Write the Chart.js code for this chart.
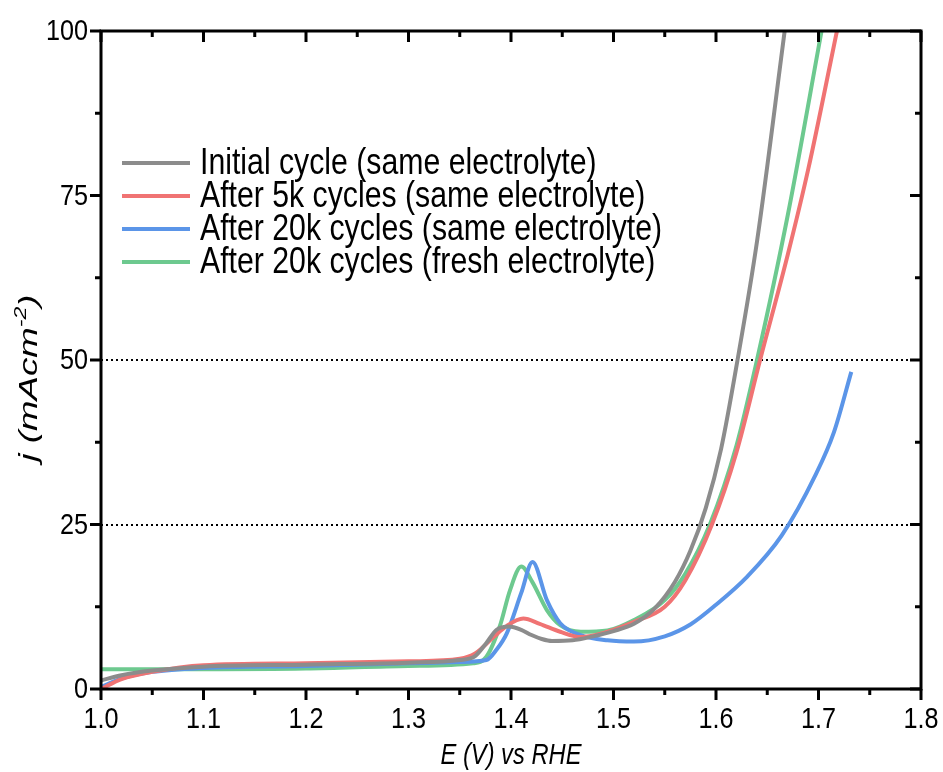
<!DOCTYPE html>
<html>
<head>
<meta charset="utf-8">
<script src="https://cdn.jsdelivr.net/npm/chart.js@4.4.1/dist/chart.umd.min.js"></script>
<style>
  html, body { margin: 0; padding: 0; background: #fff; }
  canvas { display: block; }
</style>
</head>
<body>
<canvas id="lsvChart" width="943" height="772"></canvas>
<script>
// Valores (E en V vs RHE, j en mA/cm2)
const initialE = [1.00, 1.02, 1.05, 1.10, 1.20, 1.30, 1.35, 1.365, 1.376, 1.386, 1.398, 1.41, 1.42, 1.43, 1.44, 1.46, 1.48, 1.50, 1.52, 1.54, 1.56, 1.575, 1.59, 1.605, 1.621, 1.64, 1.667];
const initialJ = [1.3, 2.1, 2.8, 3.4, 3.7, 4.0, 4.4, 5.0, 7.0, 9.0, 9.5, 9.0, 8.2, 7.6, 7.3, 7.4, 8.0, 8.8, 9.9, 12.2, 16.3, 21.0, 27.5, 36.5, 50, 68, 100];

const cycles5kE = [1.00, 1.02, 1.05, 1.10, 1.20, 1.30, 1.35, 1.365, 1.383, 1.396, 1.412, 1.428, 1.448, 1.468, 1.494, 1.52, 1.55, 1.57, 1.596, 1.62, 1.643, 1.67, 1.69, 1.718];
const cycles5kJ = [0.0, 1.5, 2.6, 3.6, 3.9, 4.2, 4.6, 5.4, 7.9, 9.6, 10.7, 9.9, 8.7, 7.9, 8.7, 10.2, 12.5, 16.5, 25, 36, 50, 66, 79, 100];

const cycles20kE = [1.00, 1.02, 1.05, 1.10, 1.20, 1.30, 1.35, 1.376, 1.386, 1.396, 1.41, 1.421, 1.435, 1.448, 1.468, 1.494, 1.52, 1.55, 1.575, 1.60, 1.63, 1.664, 1.697, 1.715, 1.732];
const cycles20kJ = [0.3, 1.6, 2.6, 3.2, 3.5, 3.9, 4.1, 4.4, 6.0, 8.5, 14.6, 19.3, 13.5, 10.0, 8.2, 7.4, 7.2, 8.0, 9.8, 12.8, 17.0, 23.3, 32.5, 39.0, 48.2];

const freshE = [1.00, 1.05, 1.10, 1.20, 1.30, 1.363, 1.376, 1.389, 1.399, 1.41, 1.421, 1.435, 1.448, 1.468, 1.494, 1.52, 1.55, 1.57, 1.594, 1.62, 1.640, 1.67, 1.703];
const freshJ = [3.0, 3.0, 3.0, 3.1, 3.5, 3.9, 4.9, 9.5, 15.0, 18.6, 16.2, 12.0, 9.7, 8.7, 8.9, 10.5, 13.5, 17.5, 25, 37, 50, 72, 100];

const seriesLabels = [
    'Initial cycle (same electrolyte)',
    'After 5k cycles (same electrolyte)',
    'After 20k cycles (same electrolyte)',
    'After 20k cycles (fresh electrolyte)'
];
const seriesColors = ['#8c8c8c', '#f07373', '#5b95e8', '#6dc98f'];

const xTicks = [1.0, 1.1, 1.2, 1.3, 1.4, 1.5, 1.6, 1.7, 1.8];
const yTicks = [0, 25, 50, 75, 100];
const refLines = [25, 50];

const FONT = "'Liberation Sans', Arial, sans-serif";
const SQUEEZE = 0.84; // la figura original está algo comprimida en horizontal

function toPoints(xs, ys) {
    return xs.map((x, i) => ({ x: x, y: ys[i] }));
}

function squeezedText(ctx, text, px, py, font, align, baseline, sx) {
    ctx.save();
    ctx.translate(px, py);
    ctx.scale(sx || SQUEEZE, 1);
    ctx.font = font;
    ctx.textAlign = align;
    ctx.textBaseline = baseline;
    ctx.fillText(text, 0, 0);
    ctx.restore();
}

// Marco, marcas, etiquetas, líneas punteadas, leyenda y títulos
const framePlugin = {
    id: 'frame',
    beforeDatasetsDraw(chart) {
        const { ctx, chartArea: a, scales: { y } } = chart;
        ctx.save();
        ctx.setLineDash([2, 3]);
        ctx.lineWidth = 2;
        ctx.strokeStyle = '#000';
        refLines.forEach(v => {
            const py = Math.round(y.getPixelForValue(v));
            ctx.beginPath();
            ctx.moveTo(a.left, py);
            ctx.lineTo(a.right, py);
            ctx.stroke();
        });
        ctx.restore();
    },
    afterDraw(chart) {
        const { ctx, chartArea: a, scales: { x, y } } = chart;
        ctx.save();
        ctx.strokeStyle = '#000';
        ctx.fillStyle = '#000';
        ctx.lineWidth = 3;
        ctx.strokeRect(a.left, a.top, a.right - a.left, a.bottom - a.top);

        // marcas del eje x (abajo hacia fuera, arriba hacia dentro)
        for (let i = 0; i <= 16; i++) {
            const px = x.getPixelForValue(xTicks[0] + i * 0.05);
            const len = i % 2 === 0 ? 11 : 6;
            ctx.beginPath();
            ctx.moveTo(px, a.bottom);
            ctx.lineTo(px, a.bottom + len);
            ctx.moveTo(px, a.top);
            ctx.lineTo(px, a.top + len);
            ctx.stroke();
        }
        // marcas del eje y (izquierda hacia fuera, derecha hacia dentro)
        for (let i = 0; i <= 8; i++) {
            const py = y.getPixelForValue(i * 12.5);
            const len = i % 2 === 0 ? 11 : 6;
            ctx.beginPath();
            ctx.moveTo(a.left, py);
            ctx.lineTo(a.left - len, py);
            ctx.moveTo(a.right, py);
            ctx.lineTo(a.right - len, py);
            ctx.stroke();
        }

        // etiquetas de los ejes, a partir de las marcas de Chart.js
        x.ticks.forEach(t => {
            squeezedText(ctx, Number(t.value).toFixed(1), x.getPixelForValue(t.value), 720, '30px ' + FONT, 'center', 'middle');
        });
        y.ticks.forEach(t => {
            squeezedText(ctx, String(t.value), a.left - 13, y.getPixelForValue(t.value) + 1, '30px ' + FONT, 'right', 'middle');
        });

        // leyenda
        chart.data.datasets.forEach((ds, i) => {
            const ly = 163 + i * 33;
            ctx.strokeStyle = ds.borderColor;
            ctx.lineWidth = 4;
            ctx.beginPath();
            ctx.moveTo(122, ly);
            ctx.lineTo(190, ly);
            ctx.stroke();
            squeezedText(ctx, ds.label, 200, ly + 1, '36px ' + FONT, 'left', 'middle');
        });

        // título eje x
        squeezedText(ctx, 'E (V) vs RHE', (a.left + a.right) / 2, 756, 'italic 30px ' + FONT, 'center', 'middle', 0.79);

        // título eje y con superíndice
        ctx.translate(30, 378);
        ctx.rotate(-Math.PI / 2);
        ctx.scale(1.22, SQUEEZE);
        ctx.textAlign = 'left';
        ctx.textBaseline = 'middle';
        const big = 'italic 30px ' + FONT;
        const small = 'italic 19px ' + FONT;
        ctx.font = big;
        const w1 = ctx.measureText('j (mAcm').width;
        const w3 = ctx.measureText(')').width;
        ctx.font = small;
        const w2 = ctx.measureText('-2').width;
        let cx = -(w1 + w2 + w3) / 2;
        ctx.font = big;
        ctx.fillText('j (mAcm', cx, 0);
        cx += w1;
        ctx.font = small;
        ctx.fillText('-2', cx, -10);
        cx += w2;
        ctx.font = big;
        ctx.fillText(')', cx, 0);
        ctx.restore();
    }
};

document.addEventListener('DOMContentLoaded', function() {
    const ctx = document.getElementById('lsvChart').getContext('2d');
    const xs = [initialE, cycles5kE, cycles20kE, freshE];
    const ys = [initialJ, cycles5kJ, cycles20kJ, freshJ];

    new Chart(ctx, {
        type: 'line',
        data: {
            datasets: seriesLabels.map((label, i) => ({
                label: label,
                data: toPoints(xs[i], ys[i]),
                borderColor: seriesColors[i],
                borderWidth: 4,
                pointRadius: 0,
                fill: false,
                cubicInterpolationMode: 'monotone'
            }))
        },
        options: {
            responsive: false,
            animation: false,
            layout: { padding: { top: 31, right: 22, left: 0, bottom: 0 } },
            plugins: {
                legend: { display: false },
                tooltip: { enabled: false }
            },
            scales: {
                x: {
                    type: 'linear',
                    min: 1.0,
                    max: 1.8,
                    afterFit: scale => { scale.height = 83; scale.paddingLeft = 0; scale.paddingRight = 0; },
                    afterBuildTicks: scale => { scale.ticks = xTicks.map(v => ({ value: v })); },
                    grid: { display: false, drawTicks: false },
                    border: { display: false },
                    ticks: { display: false }
                },
                y: {
                    min: 0,
                    max: 100,
                    afterFit: scale => { scale.width = 101; scale.paddingTop = 0; scale.paddingBottom = 0; },
                    afterBuildTicks: scale => { scale.ticks = yTicks.map(v => ({ value: v })); },
                    grid: { display: false, drawTicks: false },
                    border: { display: false },
                    ticks: { display: false }
                }
            }
        },
        plugins: [framePlugin]
    });
});
</script>
</body>
</html>
